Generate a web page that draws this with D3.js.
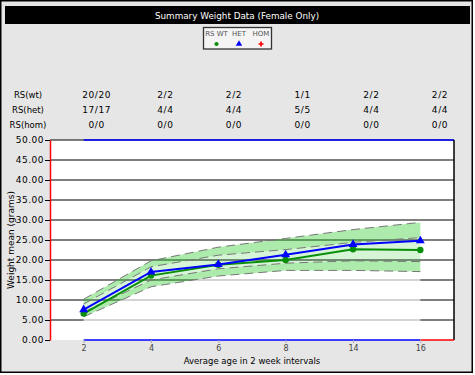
<!DOCTYPE html>
<html>
<head>
<meta charset="utf-8">
<script src="https://cdn.jsdelivr.net/npm/d3@7"></script>
<style>
  body { margin: 0; background: #fff; }
  text { font-family: "DejaVu Sans", sans-serif; }
</style>
</head>
<body>
<svg id="chart" width="475" height="375"></svg>
<script>
'use strict';

var ages = ['2', '4', '6', '8', '14', '16'];
var wtMean = [6.6, 16.1, 18.8, 20.0, 22.7, 22.5];
var hetMean = [7.6, 17.0, 18.9, 21.3, 23.9, 24.8];
var bandOuterHigh = [10.2, 19.8, 23.2, 25.4, 27.6, 29.4];
var bandInnerHigh = [9.0, 18.3, 21.2, 22.6, 24.4, 25.6];
var bandInnerLow = [7.0, 15.0, 17.8, 19.2, 19.8, 19.6];
var bandOuterLow = [5.8, 13.3, 16.0, 17.4, 17.4, 17.1];
var rowLabels = ['RS(wt)', 'RS(het)', 'RS(hom)'];
var rowWt = ['20/20', '2/2', '2/2', '1/1', '2/2', '2/2'];
var rowHet = ['17/17', '4/4', '4/4', '5/5', '4/4', '4/4'];
var rowHom = ['0/0', '0/0', '0/0', '0/0', '0/0', '0/0'];
var yTicks = [0, 5, 10, 15, 20, 25, 30, 35, 40, 45, 50];

var svg = d3.select('#chart');

// frame
svg.append('rect')
  .attr('x', 0.75).attr('y', 0.75)
  .attr('width', 471.5).attr('height', 371.5)
  .attr('fill', '#e6e6e6')
  .attr('stroke', '#000')
  .attr('stroke-width', 1.5);

svg.append('rect')
  .attr('x', 5).attr('y', 6)
  .attr('width', 465).attr('height', 18)
  .attr('fill', '#000');

svg.append('text')
  .attr('x', 237).attr('y', 18.5)
  .attr('text-anchor', 'middle')
  .attr('fill', '#fff')
  .attr('font-size', 8.8)
  .text('Summary Weight Data (Female Only)');

// legend
var legend = svg.append('g');
legend.append('rect')
  .attr('x', 203.5).attr('y', 27.5)
  .attr('width', 68).attr('height', 21.5)
  .attr('fill', '#f4f4f4')
  .attr('stroke', '#333')
  .attr('stroke-width', 1.3);

var legendItems = [
  { label: 'RS WT', x: 216.5, color: '#0a8f0a', shape: d3.symbolCircle, size: 14 },
  { label: 'HET', x: 239, color: '#0000ff', shape: d3.symbolTriangle, size: 18 },
  { label: 'HOM', x: 261, color: '#ff0000', shape: d3.symbolCross, size: 14 }
];

legend.selectAll('text.leg')
  .data(legendItems)
  .enter()
  .append('text')
  .attr('class', 'leg')
  .attr('x', function (d) { return d.x; })
  .attr('y', 36)
  .attr('text-anchor', 'middle')
  .attr('font-size', 7)
  .attr('fill', '#555')
  .text(function (d) { return d.label; });

legend.selectAll('path.leg')
  .data(legendItems)
  .enter()
  .append('path')
  .attr('class', 'leg')
  .attr('transform', function (d) { return 'translate(' + d.x + ',44)'; })
  .attr('d', function (d) { return d3.symbol().type(d.shape).size(d.size)(); })
  .attr('fill', function (d) { return d.color; });

// count table
var tableX = d3.scalePoint().domain(['label'].concat(ages)).range([28, 440]);
var rows = [rowWt, rowHet, rowHom];
var rowY = [98, 113, 127.5];

rows.forEach(function (vals, r) {
  svg.append('text')
    .attr('x', tableX('label'))
    .attr('y', rowY[r])
    .attr('text-anchor', 'middle')
    .attr('font-size', 8.5)
    .text(rowLabels[r]);

  svg.selectAll('text.row' + r)
    .data(vals)
    .enter()
    .append('text')
    .attr('class', 'row' + r)
    .attr('x', function (d, i) { return tableX(ages[i]); })
    .attr('y', rowY[r])
    .attr('text-anchor', 'middle')
    .attr('font-size', 9)
    .attr('letter-spacing', 0.6)
    .text(function (d) { return d; });
});

// plot
var plotLeft = 50, plotRight = 454, plotTop = 140, plotBottom = 340;
var x = d3.scalePoint().domain(ages).range([plotLeft, plotRight]).padding(0.5);
var y = d3.scaleLinear().domain([0, 50]).range([plotBottom, plotTop]);

svg.append('rect')
  .attr('x', plotLeft).attr('y', plotTop)
  .attr('width', plotRight - plotLeft).attr('height', plotBottom - plotTop)
  .attr('fill', '#fff');

svg.append('g')
  .selectAll('line')
  .data(yTicks.slice(1))
  .enter()
  .append('line')
  .attr('x1', plotLeft).attr('x2', plotRight)
  .attr('y1', function (d) { return y(d); })
  .attr('y2', function (d) { return y(d); })
  .attr('stroke', '#000')
  .attr('stroke-width', 1.2);

var idx = d3.range(ages.length);

// faded zone below the band
svg.append('path')
  .datum(idx)
  .attr('d', d3.area()
    .x(function (i) { return x(ages[i]); })
    .y0(y(0))
    .y1(function (i) { return y(bandOuterLow[i]); }))
  .attr('fill', '#fff')
  .attr('fill-opacity', 0.66);

function band(hi, lo, alpha) {
  svg.append('path')
    .datum(idx)
    .attr('d', d3.area()
      .x(function (i) { return x(ages[i]); })
      .y0(function (i) { return y(lo[i]); })
      .y1(function (i) { return y(hi[i]); }))
    .attr('fill', '#33cc33')
    .attr('fill-opacity', alpha);
}
band(bandOuterHigh, bandInnerHigh, 0.4);
band(bandInnerHigh, bandInnerLow, 0.2);
band(bandInnerLow, bandOuterLow, 0.4);

var edgeLine = d3.line()
  .x(function (d, i) { return x(ages[i]); })
  .y(function (d) { return y(d); });

[bandOuterHigh, bandInnerHigh, bandInnerLow, bandOuterLow].forEach(function (s) {
  svg.append('path')
    .datum(s)
    .attr('d', edgeLine)
    .attr('fill', 'none')
    .attr('stroke', '#777')
    .attr('stroke-width', 1)
    .attr('stroke-dasharray', '9,5');
});

// axes borders
svg.append('line')
  .attr('x1', x('2')).attr('x2', plotRight)
  .attr('y1', plotTop).attr('y2', plotTop)
  .attr('stroke', '#0000ff').attr('stroke-width', 1.5);
svg.append('line')
  .attr('x1', plotRight).attr('x2', plotRight)
  .attr('y1', plotTop).attr('y2', plotBottom)
  .attr('stroke', '#000').attr('stroke-width', 1.5);
svg.append('line')
  .attr('x1', x('2')).attr('x2', x('16'))
  .attr('y1', plotBottom).attr('y2', plotBottom)
  .attr('stroke', '#0000ff').attr('stroke-width', 1.5);
svg.append('line')
  .attr('x1', x('16')).attr('x2', plotRight)
  .attr('y1', plotBottom).attr('y2', plotBottom)
  .attr('stroke', '#ff0000').attr('stroke-width', 1.5);

var yAxis = svg.append('g')
  .attr('transform', 'translate(' + plotLeft + ',0)')
  .call(d3.axisLeft(y).tickValues(yTicks).tickSizeInner(5).tickSizeOuter(0).tickPadding(1)
    .tickFormat(d3.format('.2f')));
yAxis.select('.domain').attr('stroke', '#ff0000').attr('stroke-width', 1.5);
yAxis.selectAll('.tick text')
  .attr('font-size', 9)
  .attr('letter-spacing', 0.5)
  .attr('font-family', '"DejaVu Sans", sans-serif')
  .attr('fill', '#000');

var xAxis = svg.append('g')
  .attr('transform', 'translate(0,' + plotBottom + ')')
  .call(d3.axisBottom(x).tickSize(3).tickPadding(2));
xAxis.select('.domain').remove();
xAxis.selectAll('.tick line').attr('stroke', '#aaa');
xAxis.selectAll('.tick text')
  .attr('font-size', 8)
  .attr('font-family', '"DejaVu Sans", sans-serif')
  .attr('fill', '#444');

svg.append('text')
  .attr('x', (plotLeft + plotRight) / 2).attr('y', 364)
  .attr('text-anchor', 'middle')
  .attr('font-size', 8.5)
  .text('Average age in 2 week intervals');

svg.append('text')
  .attr('transform', 'translate(14,240) rotate(-90)')
  .attr('text-anchor', 'middle')
  .attr('font-size', 9)
  .text('Weight mean (grams)');

// series
var meanLine = d3.line()
  .x(function (d, i) { return x(ages[i]); })
  .y(function (d) { return y(d); });

svg.append('path')
  .datum(wtMean)
  .attr('d', meanLine)
  .attr('fill', 'none')
  .attr('stroke', '#0a8f0a')
  .attr('stroke-width', 2);

svg.selectAll('circle.wt')
  .data(wtMean)
  .enter()
  .append('circle')
  .attr('class', 'wt')
  .attr('cx', function (d, i) { return x(ages[i]); })
  .attr('cy', function (d) { return y(d); })
  .attr('r', 3.2)
  .attr('fill', '#0a8f0a');

svg.append('path')
  .datum(hetMean)
  .attr('d', meanLine)
  .attr('fill', 'none')
  .attr('stroke', '#0000ff')
  .attr('stroke-width', 2);

svg.selectAll('path.het')
  .data(hetMean)
  .enter()
  .append('path')
  .attr('class', 'het')
  .attr('transform', function (d, i) { return 'translate(' + x(ages[i]) + ',' + y(d) + ')'; })
  .attr('d', d3.symbol().type(d3.symbolTriangle).size(34)())
  .attr('fill', '#0000ff');
</script>
</body>
</html>
